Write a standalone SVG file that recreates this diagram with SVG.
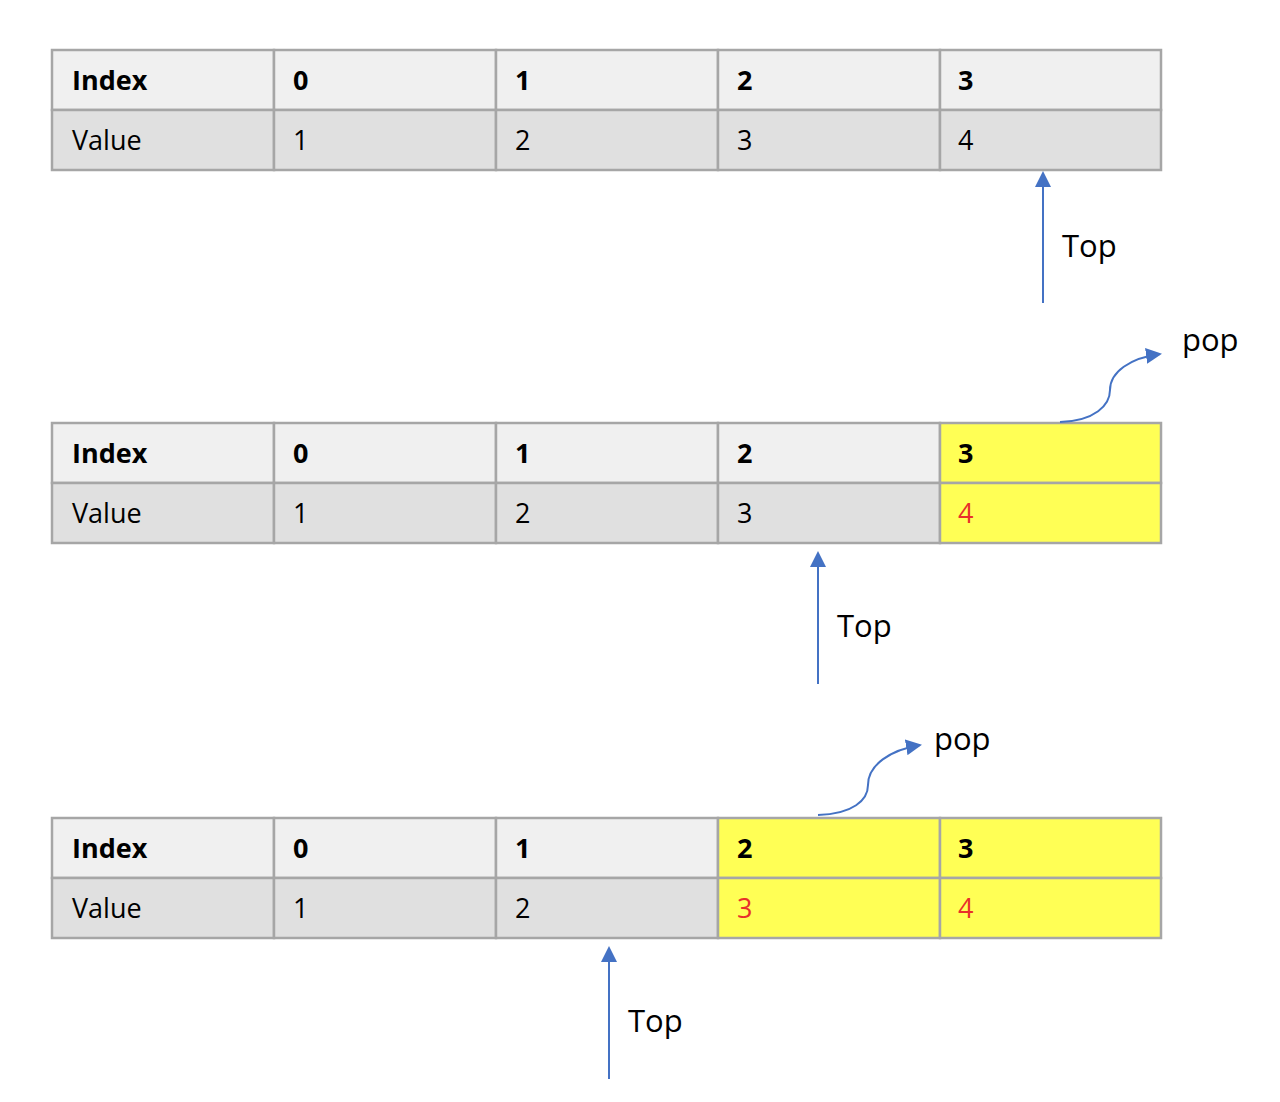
<svg xmlns="http://www.w3.org/2000/svg" width="1280" height="1102" viewBox="0 0 1280 1102">
<style>
.h{fill:#f0f0f0;stroke:#a6a6a6;stroke-width:2.5}
.v{fill:#e0e0e0;stroke:#a6a6a6;stroke-width:2.5}
.y{fill:#ffff55;stroke:#a6a6a6;stroke-width:2.5}
.tb{font-family:"Open Sans","Liberation Sans",sans-serif;font-size:27px;font-weight:bold;fill:#000}
.tv{font-family:"Open Sans","Liberation Sans",sans-serif;font-size:27px;fill:#000}
.red{fill:#e8302a}
.lbl{font-family:"Open Sans","Liberation Sans",sans-serif;font-size:31px;fill:#000}
.c{fill:none;stroke:#4472c4;stroke-width:2}
</style>
<defs>
<marker id="ah" markerWidth="10" markerHeight="10" refX="8" refY="5" orient="auto" markerUnits="userSpaceOnUse" viewBox="0 0 10 10">
<path d="M0,0 L10,5 L0,10 z" fill="#4472c4"/>
</marker>
<marker id="ah2" markerWidth="16" markerHeight="16" refX="14" refY="8" orient="auto" markerUnits="userSpaceOnUse" viewBox="0 0 16 16">
<path d="M0,0 L16,8 L0,16 z" fill="#4472c4"/>
</marker>
</defs>

<g id="table1">
<rect class="h" x="52" y="50" width="222" height="60"/><rect class="h" x="274" y="50" width="222" height="60"/><rect class="h" x="496" y="50" width="222" height="60"/><rect class="h" x="718" y="50" width="222" height="60"/><rect class="h" x="940" y="50" width="221" height="60"/>
<rect class="v" x="52" y="110" width="222" height="60"/><rect class="v" x="274" y="110" width="222" height="60"/><rect class="v" x="496" y="110" width="222" height="60"/><rect class="v" x="718" y="110" width="222" height="60"/><rect class="v" x="940" y="110" width="221" height="60"/>
<text class="tb" x="72" y="90">Index</text><text class="tb" x="293" y="90">0</text><text class="tb" x="515" y="90">1</text><text class="tb" x="737" y="90">2</text><text class="tb" x="958" y="90">3</text>
<text class="tv" x="72" y="150">Value</text><text class="tv" x="293" y="150">1</text><text class="tv" x="515" y="150">2</text><text class="tv" x="737" y="150">3</text><text class="tv" x="958" y="150">4</text>
</g>

<g id="table2">
<rect class="h" x="52" y="423" width="222" height="60"/><rect class="h" x="274" y="423" width="222" height="60"/><rect class="h" x="496" y="423" width="222" height="60"/><rect class="h" x="718" y="423" width="222" height="60"/><rect class="y" x="940" y="423" width="221" height="60"/>
<rect class="v" x="52" y="483" width="222" height="60"/><rect class="v" x="274" y="483" width="222" height="60"/><rect class="v" x="496" y="483" width="222" height="60"/><rect class="v" x="718" y="483" width="222" height="60"/><rect class="y" x="940" y="483" width="221" height="60"/>
<text class="tb" x="72" y="463">Index</text><text class="tb" x="293" y="463">0</text><text class="tb" x="515" y="463">1</text><text class="tb" x="737" y="463">2</text><text class="tb" x="958" y="463">3</text>
<text class="tv" x="72" y="523">Value</text><text class="tv" x="293" y="523">1</text><text class="tv" x="515" y="523">2</text><text class="tv" x="737" y="523">3</text><text class="tv red" x="958" y="523">4</text>
</g>

<g id="table3">
<rect class="h" x="52" y="818" width="222" height="60"/><rect class="h" x="274" y="818" width="222" height="60"/><rect class="h" x="496" y="818" width="222" height="60"/><rect class="y" x="718" y="818" width="222" height="60"/><rect class="y" x="940" y="818" width="221" height="60"/>
<rect class="v" x="52" y="878" width="222" height="60"/><rect class="v" x="274" y="878" width="222" height="60"/><rect class="v" x="496" y="878" width="222" height="60"/><rect class="y" x="718" y="878" width="222" height="60"/><rect class="y" x="940" y="878" width="221" height="60"/>
<text class="tb" x="72" y="858">Index</text><text class="tb" x="293" y="858">0</text><text class="tb" x="515" y="858">1</text><text class="tb" x="737" y="858">2</text><text class="tb" x="958" y="858">3</text>
<text class="tv" x="72" y="918">Value</text><text class="tv" x="293" y="918">1</text><text class="tv" x="515" y="918">2</text><text class="tv red" x="737" y="918">3</text><text class="tv red" x="958" y="918">4</text>
</g>

<g id="connectors">
<line class="c" x1="1043" y1="303" x2="1043" y2="173" marker-end="url(#ah2)"/>
<path class="c" d="M1060,422 C1095,421 1110,405 1110,390 C1110,372 1130,358 1160,354" marker-end="url(#ah2)"/>
<line class="c" x1="818" y1="684" x2="818" y2="553" marker-end="url(#ah2)"/>
<path class="c" d="M818,815 C853,814 868,800 868,785 C868,765 890,750 920,745" marker-end="url(#ah2)"/>
<line class="c" x1="609" y1="1079" x2="609" y2="948" marker-end="url(#ah2)"/>
</g>

<g id="labels">
<text class="lbl" x="1062" y="257">Top</text>
<text class="lbl" x="1182" y="351">pop</text>
<text class="lbl" x="837" y="637">Top</text>
<text class="lbl" x="934" y="750">pop</text>
<text class="lbl" x="628" y="1032">Top</text>
</g>
</svg>
